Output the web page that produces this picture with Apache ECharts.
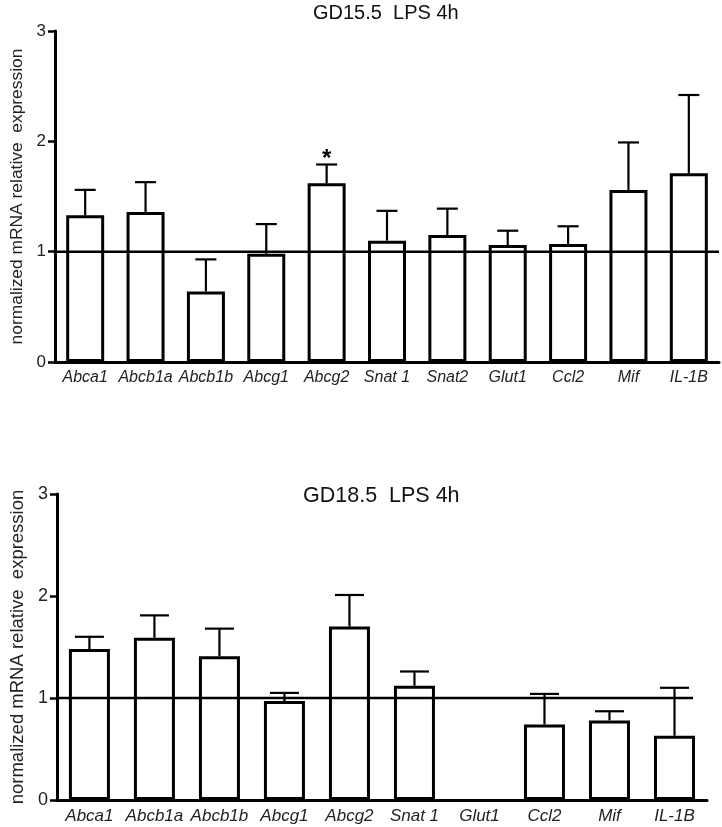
<!DOCTYPE html>
<html><head><meta charset="utf-8">
<script src="https://cdn.jsdelivr.net/npm/echarts@6/dist/echarts.min.js"></script>
<style>html,body{margin:0;padding:0;background:#fff}#c{width:722px;height:827px}</style>
</head><body><div id="c"></div>
<script>
// ---- data ----
const catsTop = ['Abca1','Abcb1a','Abcb1b','Abcg1','Abcg2','Snat 1','Snat2','Glut1','Ccl2','Mif','IL-1B'];
const meanTop = [1.33,1.36,0.64,0.98,1.62,1.10,1.15,1.06,1.07,1.56,1.71];
const upperTop = [1.56,1.63,0.93,1.25,1.79,1.37,1.39,1.19,1.23,1.99,2.42];
const sigTop = ['','','','','*','','','','','',''];
const catsBot = ['Abca1','Abcb1a','Abcb1b','Abcg1','Abcg2','Snat 1','Glut1','Ccl2','Mif','IL-1B'];
const meanBot = [1.48,1.59,1.41,0.97,1.70,1.12,null,0.74,0.78,0.63];
const upperBot = [1.60,1.81,1.68,1.05,2.01,1.26,null,1.04,0.87,1.10];
const sigBot = ['','','','','','','','','',''];
const yMin = 0, yMax = 3, yStep = 1;
const refValue = 1;
const titleTop = 'GD15.5  LPS 4h';
const titleBot = 'GD18.5  LPS 4h';
const yName = 'normalized mRNA relative  expression';

const FONT = '"Liberation Sans", Arial, sans-serif';
const chart = echarts.init(document.getElementById('c'), null, {renderer:'canvas'});

function errRender(capW, sig){
  return function(params, api){
    const m = api.value(1), u = api.value(2);
    if (m == null || isNaN(m) || u == null || isNaN(u)) return;
    const p0 = api.coord([api.value(0), m]);
    const p1 = api.coord([api.value(0), u]);
    const children = [
      {type:'line', shape:{x1:p0[0], y1:p0[1], x2:p1[0], y2:p1[1]}, style:{stroke:'#000', lineWidth:2.2}},
      {type:'line', shape:{x1:p1[0]-capW/2, y1:p1[1], x2:p1[0]+capW/2, y2:p1[1]}, style:{stroke:'#000', lineWidth:2.2}}
    ];
    const s = sig[params.dataIndex];
    if (s) {
      children.push({type:'text', x:p1[0], y:p1[1]+7,
        style:{text:s, fill:'#000', font:'bold 24px ' + FONT, textAlign:'center', textVerticalAlign:'bottom'}});
    }
    return {type:'group', children};
  };
}
// reference line at refValue, from the y axis to (plot end - trim)
function refRender(trim){
  return function(params, api){
    const cs = params.coordSys;
    const y = api.coord([0, api.value(0)])[1];
    return {type:'line', shape:{x1:cs.x, y1:y, x2:cs.x + cs.width - trim, y2:y},
      style:{stroke:'#000', lineWidth:2.5}};
  };
}

function yAxisCfg(gi, fs, nfs){
  return {
    type:'value', gridIndex:gi, min:yMin, max:yMax, interval:yStep,
    name:yName, nameLocation:'middle', nameGap:29,
    nameTextStyle:{fontFamily:FONT, fontSize:nfs, color:'#222'},
    axisLine:{show:true, lineStyle:{color:'#000', width:3}},
    axisTick:{show:true, inside:false, length:7, lineStyle:{color:'#000', width:2.5}},
    axisLabel:{fontFamily:FONT, fontSize:fs, color:'#222', margin:9},
    splitLine:{show:false}
  };
}
function xAxisCfg(gi, cats, fs){
  return {
    type:'category', gridIndex:gi, data:cats,
    axisLine:{show:true, lineStyle:{color:'#000', width:3}},
    axisTick:{show:false},
    axisLabel:{fontFamily:FONT, fontSize:fs, fontStyle:'italic', color:'#222', margin:8, interval:0}
  };
}

chart.setOption({
  animation:false,
  backgroundColor:'#fff',
  title:[
    {text:titleTop, left:313, top:3, padding:0, textStyle:{fontFamily:FONT, fontSize:20, fontWeight:'normal', color:'#111'}},
    {text:titleBot, left:303, top:485, padding:0, textStyle:{fontFamily:FONT, fontSize:21.5, fontWeight:'normal', color:'#111'}}
  ],
  grid:[
    {left:55, right:3, top:31, bottom:465, containLabel:false},
    {left:55, right:15, top:494, bottom:27, containLabel:false}
  ],
  xAxis:[xAxisCfg(0, catsTop, 16), xAxisCfg(1, catsBot, 17)],
  yAxis:[yAxisCfg(0, 17, 17.4), yAxisCfg(1, 18, 18.5)],
  series:[
    {type:'bar', xAxisIndex:0, yAxisIndex:0, data:meanTop, barWidth:38,
     itemStyle:{color:'#fff', borderColor:'#000', borderWidth:3}},
    {type:'custom', xAxisIndex:0, yAxisIndex:0, renderItem:refRender(0), z:4, silent:true,
     data:[[refValue]], encode:{y:0}},
    {type:'custom', xAxisIndex:0, yAxisIndex:0, renderItem:errRender(21, sigTop), z:5,
     encode:{x:0, y:[1,2]},
     data:catsTop.map((c,i)=>[i, meanTop[i], upperTop[i]])},
    {type:'bar', xAxisIndex:1, yAxisIndex:1, data:meanBot, barWidth:41,
     itemStyle:{color:'#fff', borderColor:'#000', borderWidth:3}},
    {type:'custom', xAxisIndex:1, yAxisIndex:1, renderItem:refRender(14), z:4, silent:true,
     data:[[refValue]], encode:{y:0}},
    {type:'custom', xAxisIndex:1, yAxisIndex:1, renderItem:errRender(29, sigBot), z:5,
     encode:{x:0, y:[1,2]},
     data:catsBot.map((c,i)=>[i, meanBot[i], upperBot[i]])}
  ]
});
</script></body></html>
